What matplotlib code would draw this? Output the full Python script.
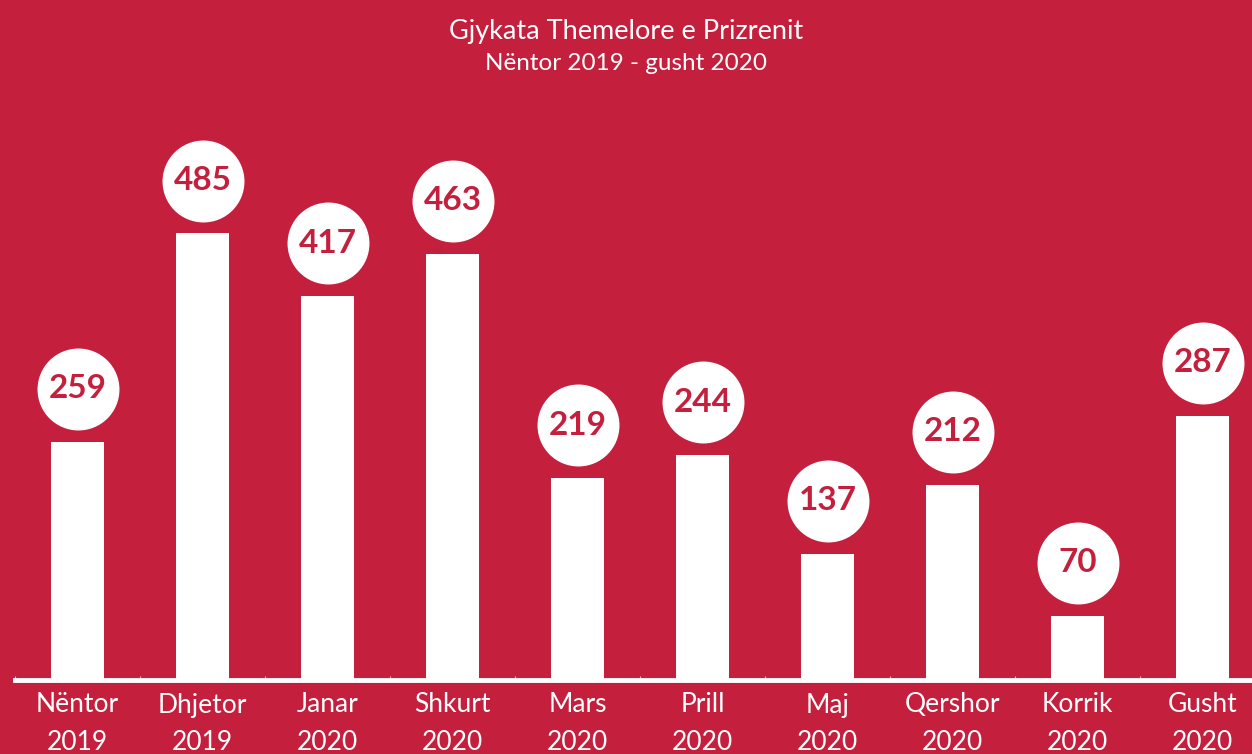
import matplotlib
matplotlib.use('Agg')
import matplotlib.pyplot as plt
import numpy as np

months = ['Nëntor', 'Dhjetor', 'Janar', 'Shkurt', 'Mars', 'Prill', 'Maj', 'Qershor', 'Korrik', 'Gusht']
years = ['2019', '2019', '2020', '2020', '2020', '2020', '2020', '2020', '2020', '2020']
cases = [259, 485, 417, 463, 219, 244, 137, 212, 70, 287]

title = 'Gjykata Themelore e Prizrenit'
subtitle = 'Nëntor 2019 - gusht 2020'

BG = '#C41F3D'
plt.rcParams['font.family'] = ['Lato', 'DejaVu Sans']

fig = plt.figure(figsize=(12.52, 7.54), dpi=100, facecolor=BG)
# axes spans a little past the right edge, like the original
ax = fig.add_axes([15 / 1252, 74 / 754, 1250 / 1252, 580 / 754])
ax.set_facecolor(BG)

x = np.arange(len(cases))
ax.bar(x, cases, width=0.42, color='white', zorder=2)

# value bubbles above the bars
bubble_gap = 57.5  # data units between bar top and bubble centre
ax.scatter(x, np.array(cases) + bubble_gap, s=58 ** 2, color='white', zorder=3, clip_on=False)
for xi, v in zip(x, cases):
    ax.text(xi, v + bubble_gap, str(v), ha='center', va='center', fontsize=24,
            fontweight='bold', color=BG, zorder=4)

ax.set_xlim(-0.5, len(cases) - 0.5)
ax.set_ylim(0, 630)
ax.set_yticks([])
for s in ['top', 'right', 'left']:
    ax.spines[s].set_visible(False)
ax.spines['bottom'].set_color('white')
ax.spines['bottom'].set_linewidth(3.5)
ax.spines['bottom'].set_zorder(5)

ax.set_xticks(x)
ax.set_xticklabels([m + '\n' + y for m, y in zip(months, years)], fontsize=19,
                   color='white', linespacing=1.62)
ax.tick_params(axis='x', length=0, pad=9)
ax.set_xticks(np.arange(len(cases) + 1) - 0.5, minor=True)
ax.tick_params(axis='x', which='minor', length=3, direction='in', color='#eab3bd', width=0.8)

fig.text(0.5, 1 - 31 / 754, title, ha='center', va='center', fontsize=19.5, color='white')
fig.text(0.5, 1 - 64 / 754, subtitle, ha='center', va='center', fontsize=17.5, color='white')

fig.savefig('out.png', dpi=100, facecolor=BG)
